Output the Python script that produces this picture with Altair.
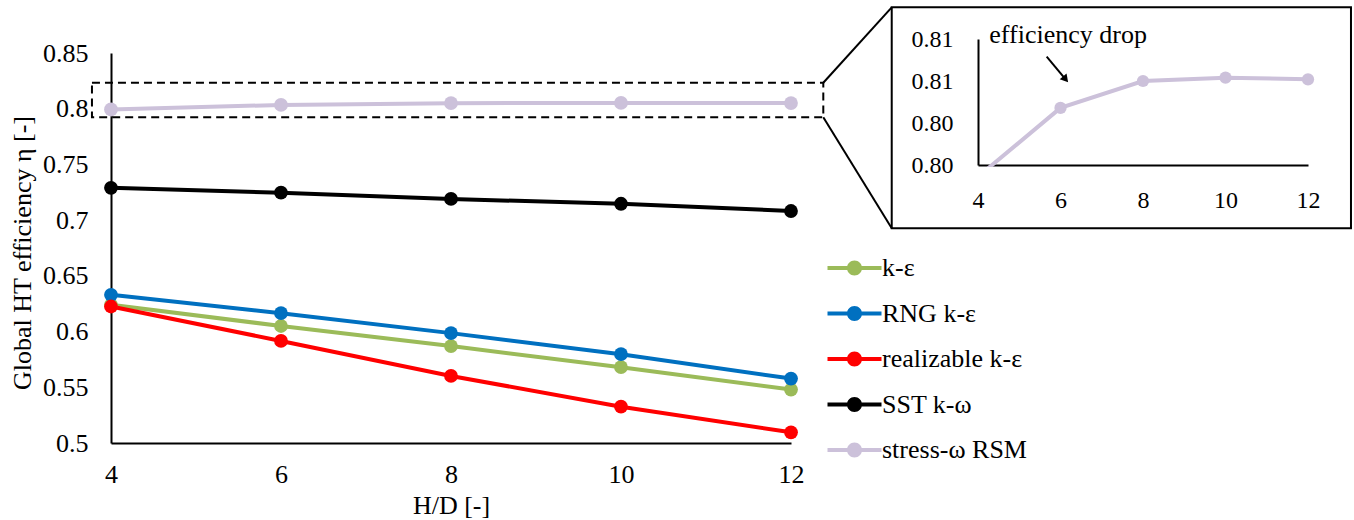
import altair as alt
import pandas as pd

# ---------------- data ----------------
HD = [4, 6, 8, 10, 12]
models = ["k-ε", "RNG k-ε", "realizable k-ε", "SST k-ω", "stress-ω RSM"]
eta_k_eps = [0.624, 0.605, 0.587, 0.568, 0.548]
eta_rng = [0.633, 0.6165, 0.5986, 0.5797, 0.5578]
eta_realizable = [0.6225, 0.5916, 0.5602, 0.5326, 0.5096]
eta_sst = [0.729, 0.7246, 0.719, 0.7147, 0.7082]
eta_rsm = [0.7993, 0.8034, 0.8050, 0.8052, 0.8051]
colors = ["#9BBB59", "#0070C0", "#FF0000", "#000000", "#CCC1DA"]

x_ticks = [4, 6, 8, 10, 12]
main_y_ticks = [0.5, 0.55, 0.6, 0.65, 0.7, 0.75, 0.8, 0.85]
inset_y_ticks = [0.8, 0.8025, 0.805, 0.8075]

# zoom annotation (in main-chart data units)
zoom_box_x = [3.776, 12.38]
zoom_box_y = [0.7923, 0.8233]
inset_frame_x = [13.185, 18.588]
inset_frame_y = [0.6927, 0.8910]
connector_x = [12.38, 13.185]
connector_top_y = [0.8233, 0.8910]
connector_bottom_y = [0.7923, 0.6927]

# inset annotation (in inset data units)
note_text = ["efficiency drop"]
note_x = [4.274]
note_y = [0.80724]
arrow_x = [5.665, 6.104]
arrow_y = [0.80645, 0.80516]
# area below the inset x-axis where the inset plot is clipped
clip_x = [3.84, 4.50]
clip_y = [0.79898, 0.79988]

FONT = "Liberation Serif"

series = [eta_k_eps, eta_rng, eta_realizable, eta_sst, eta_rsm]
df = pd.DataFrame(
    [{"HD": h, "model": m, "series": m, "eta": v}
     for m, vals in zip(models, series) for h, v in zip(HD, vals)]
)
rsm_df = df[df["model"] == "stress-ω RSM"]

# ---------------- main scales / axes ----------------
xs_main = alt.Scale(domain=[4, 12], zero=False, nice=False)
ys_main = alt.Scale(domain=[0.5, 0.85], zero=False, nice=False)

ax_x_main = alt.Axis(
    values=x_ticks, title="H/D [-]", grid=False, ticks=False, tickSize=0,
    domainColor="black", domainWidth=2, labelFont=FONT, labelFontSize=26,
    labelColor="black", labelBaseline="alphabetic", labelPadding=39, labelFlush=False,
    titleFont=FONT, titleFontSize=26, titleFontWeight="normal", titleColor="black",
    titleBaseline="alphabetic", titleY=70,
)
ax_y_main = alt.Axis(
    values=main_y_ticks, format=".2~f", title="Global HT efficiency η [-]", grid=False,
    ticks=False, tickSize=0, domainColor="black", domainWidth=2, labelFont=FONT,
    labelFontSize=26, labelColor="black", labelPadding=23, labelFlush=False,
    labelBaseline="middle",
    titleFont=FONT, titleFontSize=26, titleFontWeight="normal", titleColor="black",
    titleX=-89, titleY=199.5, titleAlign="center", titleBaseline="middle", titleAngle=-90,
)


def mx(field, **kw):
    return alt.X(field, type="quantitative", scale=xs_main, axis=ax_x_main, title="H/D [-]", **kw)


def my(field, **kw):
    return alt.Y(field, type="quantitative", scale=ys_main, axis=ax_y_main,
                 title="Global HT efficiency η [-]", **kw)


legend_path = "M-3.6,-0.267H3.6V0.267H-3.6Z M-1,0A1,1 0 1,1 1,0A1,1 0 1,1 -1,0Z"

main_lines = alt.Chart(df).mark_line(strokeWidth=4).encode(
    x=mx("HD"), y=my("eta"),
    stroke=alt.Stroke("series:N", scale=alt.Scale(domain=models, range=colors), legend=None),
    detail="series:N",
)
main_points = alt.Chart(df).mark_point(filled=True, size=190, opacity=1, shape="circle").encode(
    x=mx("HD"), y=my("eta"),
    fill=alt.Fill(
        "model:N", sort=models, scale=alt.Scale(range=colors),
        legend=alt.Legend(
            title=None, orient="none", legendX=730.5, legendY=202, padding=0,
            symbolType=legend_path, symbolSize=225, symbolStrokeWidth=0, symbolOpacity=1,
            labelFont=FONT, labelFontSize=26, labelColor="black", labelOffset=14.5,
            labelBaseline="middle", rowPadding=19.5, labelLimit=400,
        ),
    ),
)

box_df = pd.DataFrame({"x": [zoom_box_x[0]], "x2": [zoom_box_x[1]],
                       "y": [zoom_box_y[0]], "y2": [zoom_box_y[1]]})
zoom_box = alt.Chart(box_df).mark_rect(
    fillOpacity=0, stroke="black", strokeWidth=2, strokeDash=[8, 5]
).encode(x=mx("x"), x2="x2", y=my("y"), y2="y2")

frame_df = pd.DataFrame({"x": [inset_frame_x[0]], "x2": [inset_frame_x[1]],
                         "y": [inset_frame_y[0]], "y2": [inset_frame_y[1]]})
inset_frame = alt.Chart(frame_df).mark_rect(
    fillOpacity=0, stroke="black", strokeWidth=2
).encode(x=mx("x"), x2="x2", y=my("y"), y2="y2")

conn_df = pd.DataFrame({
    "x": [connector_x[0], connector_x[0]],
    "x2": [connector_x[1], connector_x[1]],
    "y": [connector_top_y[0], connector_bottom_y[0]],
    "y2": [connector_top_y[1], connector_bottom_y[1]],
})
connectors = alt.Chart(conn_df).mark_rule(color="black", strokeWidth=2).encode(
    x=mx("x"), x2="x2", y=my("y"), y2="y2"
)

main = alt.layer(main_lines, main_points, zoom_box, connectors, inset_frame)

# ---------------- inset ----------------
xs_in = alt.Scale(domain=[4, 12], range=[867, 1197], zero=False, nice=False)
ys_in = alt.Scale(domain=[0.8, 0.8075], range=[112, -14], zero=False, nice=False)

ax_x_in = alt.Axis(
    values=x_ticks, orient="bottom", offset=-278, title=None, grid=False, ticks=False,
    tickSize=0, domainColor="black", domainWidth=2, labelFont=FONT, labelFontSize=24,
    labelColor="black", labelBaseline="alphabetic", labelPadding=42, labelFlush=False,
)
ax_y_in = alt.Axis(
    values=inset_y_ticks, format=".2f", orient="left", offset=-867, title=None, grid=False,
    ticks=False, tickSize=0, domainColor="black", domainWidth=2, labelFont=FONT,
    labelFontSize=24, labelColor="black", labelPadding=25, labelFlush=False,
    labelBaseline="middle",
)


def ix(field):
    return alt.X(field, type="quantitative", scale=xs_in, axis=ax_x_in, title=None)


def iy(field):
    return alt.Y(field, type="quantitative", scale=ys_in, axis=ax_y_in, title=None)


inset_line = alt.Chart(rsm_df).mark_line(strokeWidth=4, color=colors[4]).encode(
    x=ix("HD"), y=iy("eta")
)
clip_df = pd.DataFrame({"x": [clip_x[0]], "x2": [clip_x[1]], "y": [clip_y[0]], "y2": [clip_y[1]]})
inset_clip = alt.Chart(clip_df).mark_rect(fill="white", fillOpacity=1, strokeWidth=0).encode(
    x=ix("x"), x2="x2", y=iy("y"), y2="y2"
)
inset_points = alt.Chart(rsm_df).transform_filter("datum.HD > 4").mark_point(
    filled=True, size=150, opacity=1, shape="circle", color=colors[4]
).encode(x=ix("HD"), y=iy("eta"))

note_df = pd.DataFrame({"x": note_x, "y": note_y, "t": note_text})
note = alt.Chart(note_df).mark_text(
    font=FONT, fontSize=26, color="black", align="left", baseline="alphabetic"
).encode(x=ix("x"), y=iy("y"), text="t:N")

arrow_df = pd.DataFrame({"x": [arrow_x[0]], "x2": [arrow_x[1]], "y": [arrow_y[0]], "y2": [arrow_y[1]]})
arrow_shaft = alt.Chart(arrow_df).mark_rule(color="black", strokeWidth=2).encode(
    x=ix("x"), x2="x2", y=iy("y"), y2="y2"
)
head_df = pd.DataFrame({"x": [arrow_x[1]], "y": [arrow_y[1]]})
arrow_head = alt.Chart(head_df).mark_point(
    shape="triangle", filled=True, color="black", size=80, angle=140, opacity=1
).encode(x=ix("x"), y=iy("y"))

inset = alt.layer(inset_line, inset_clip, inset_points, note, arrow_shaft, arrow_head)

chart = (
    alt.layer(main, inset)
    .resolve_scale(x="independent", y="independent")
    .properties(
        width=680, height=390,
        autosize=alt.AutoSizeParams(type="none"),
        padding={"left": 111, "top": 53, "right": 563, "bottom": 77},
        background="white",
    )
    .configure(font=FONT)
    .configure_axis(labelFont=FONT, titleFont=FONT)
    .configure_legend(labelFont=FONT)
    .configure_view(strokeWidth=0)
)

chart.save("out.html", embed_options={"renderer": "svg", "actions": False})
